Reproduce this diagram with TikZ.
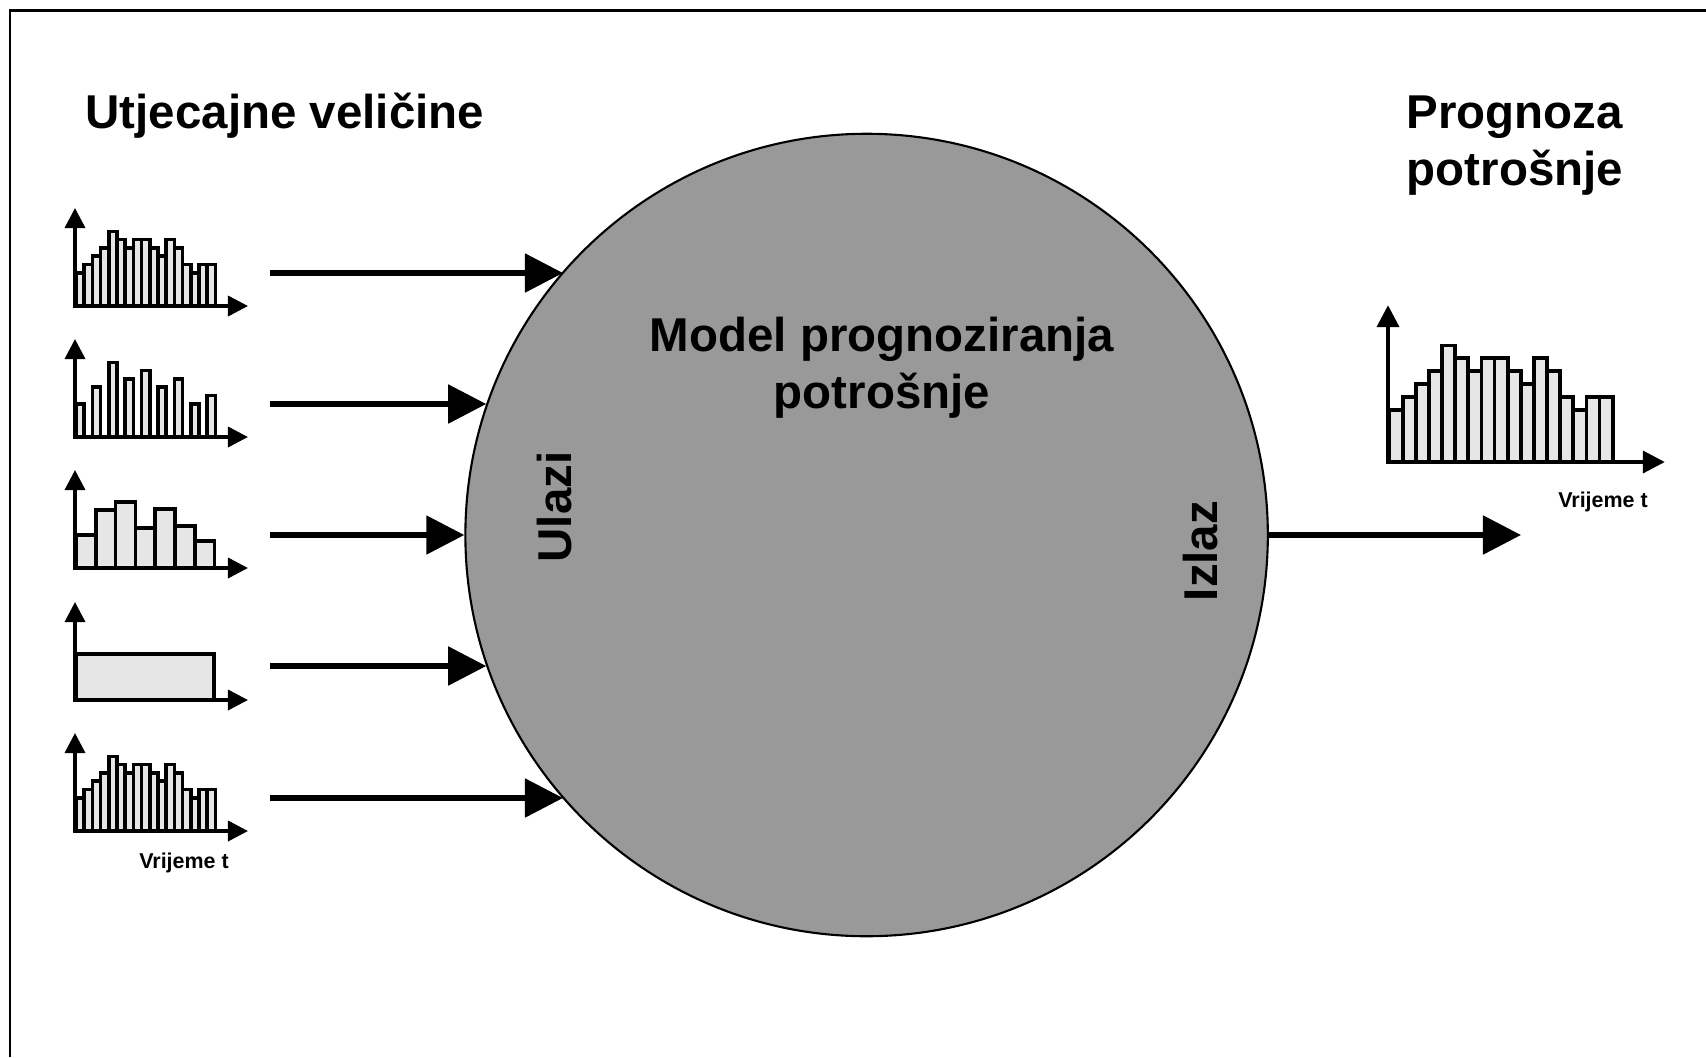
\documentclass[tikz,border=0pt]{standalone}
\usepackage{fontspec}
\setmainfont{Liberation Sans}
\usetikzlibrary{arrows.meta, calc}
\definecolor{mygray}{RGB}{153,153,153}
\definecolor{mylight}{RGB}{230,230,230}
\tikzstyle{title} = [inner sep=0, font=\fontsize{13.5}{16.2}\selectfont\bfseries,
    align=center]
\tikzstyle{small} = [inner sep=0, font=\fontsize{6.1}{7}\selectfont\bfseries]
\tikzstyle{flow} = [line width=1.5pt, -{Triangle[length=0.38cm, width=0.38cm]}]
\tikzstyle{axis} = [line width=1pt, line cap=rect,
    -{Triangle[length=0.2cm, width=0.2cm]}]
\tikzstyle{bigaxis} = [line width=1.1pt, line cap=rect,
    -{Triangle[length=0.22cm, width=0.22cm]}]
\tikzstyle{bar} = [draw=black, line width=1pt, fill=mylight]
\tikzstyle{model} = [circle, draw=black, line width=0.6pt, fill=mygray,
    minimum size=8.02cm, inner sep=0]

\begin{document}
\begin{tikzpicture}[x=0.01cm, y=-0.01cm]
    \useasboundingbox (0,0) rectangle (1706,1057);
    \draw[line width=0.85pt] (10,1057) -- (10,10.5) -- (1706,10.5);

    % 1. Place the model circle and the titles
    \node[model] (model) at (866.6,535) {};
    \node[title] (modelText) at (882,368) {Model prognoziranja\\potrošnje};
    \node[title, anchor=base west] (inTitle) at (85,128) {Utjecajne veličine};
    \node[title, anchor=west, align=left] (outTitle) at (1406,145.5)
        {Prognoza\\potrošnje};
    \node[title, rotate=90] (inLabel) at (555,507) {Ulazi};
    \node[title, rotate=90] (outLabel) at (1201,551) {Izlaz};

    % 2. Input charts (origin of each = axis corner)
    \begin{scope}[shift={(75,306)}]
        \foreach \h [count=\i] in {4,5,6,7,9,8,7,8,8,7,6,8,7,5,4,5,5}
            \draw[bar] ({1+(\i-1)*8.2},0) rectangle ({1+\i*8.2},{-8.3*\h});
        \draw[axis] (0,0) -- (0,-98);
        \draw[axis] (0,0) -- (173,0);
    \end{scope}
    \begin{scope}[shift={(75,437)}]
        \foreach \h [count=\i] in {4,6,9,7,8,6,7,4,5}
            \draw[bar] ({1+(2*\i-2)*8.2},0) rectangle ({1+(2*\i-1)*8.2},{-8.3*\h});
        \draw[axis] (0,0) -- (0,-98);
        \draw[axis] (0,0) -- (173,0);
    \end{scope}
    \begin{scope}[shift={(75,568)}]
        \foreach \h [count=\i] in {33,58,66,40,59,42,27}
            \draw[bar] ({1+(\i-1)*19.8},0) rectangle ({1+\i*19.8},-\h);
        \draw[axis] (0,0) -- (0,-98);
        \draw[axis] (0,0) -- (173,0);
    \end{scope}
    \begin{scope}[shift={(75,700)}]
        \draw[bar] (1,0) rectangle (139,-46);
        \draw[axis] (0,0) -- (0,-98);
        \draw[axis] (0,0) -- (173,0);
    \end{scope}
    \begin{scope}[shift={(75,831)}]
        \foreach \h [count=\i] in {4,5,6,7,9,8,7,8,8,7,6,8,7,5,4,5,5}
            \draw[bar] ({1+(\i-1)*8.2},0) rectangle ({1+\i*8.2},{-8.3*\h});
        \draw[axis] (0,0) -- (0,-98);
        \draw[axis] (0,0) -- (173,0);
    \end{scope}
    \node[small, anchor=base] (inTime) at (184,868) {Vrijeme t};

    % 3. Output chart
    \begin{scope}[shift={(1388,462)}, scale=1.6]
        \foreach \h [count=\i] in {4,5,6,7,9,8,7,8,8,7,6,8,7,5,4,5,5}
            \draw[bar, line width=1.05pt] ({1+(\i-1)*8.2},0) rectangle ({1+\i*8.2},{-8.1*\h});
        \draw[bigaxis] (0,0) -- (0,-98);
        \draw[bigaxis] (0,0) -- (173,0);
    \end{scope}
    \node[small, anchor=base] (outTime) at (1603,507) {Vrijeme t};

    % 4. Connections
    \coordinate (in1) at (270,273);
    \coordinate (in2) at (270,404);
    \coordinate (in3) at (270,535);
    \coordinate (in4) at (270,666);
    \coordinate (in5) at (270,798);
    \coordinate (outTip) at (1521,535);
    \draw[flow] (in1) -- (model.139 |- in1);
    \draw[flow] (in2) -- (model.161 |- in2);
    \draw[flow] (in3) -- (model.west);
    \draw[flow] (in4) -- (model.199 |- in4);
    \draw[flow] (in5) -- (model.221 |- in5);
    \draw[flow] (model.east) -- (outTip);
\end{tikzpicture}
\end{document}
